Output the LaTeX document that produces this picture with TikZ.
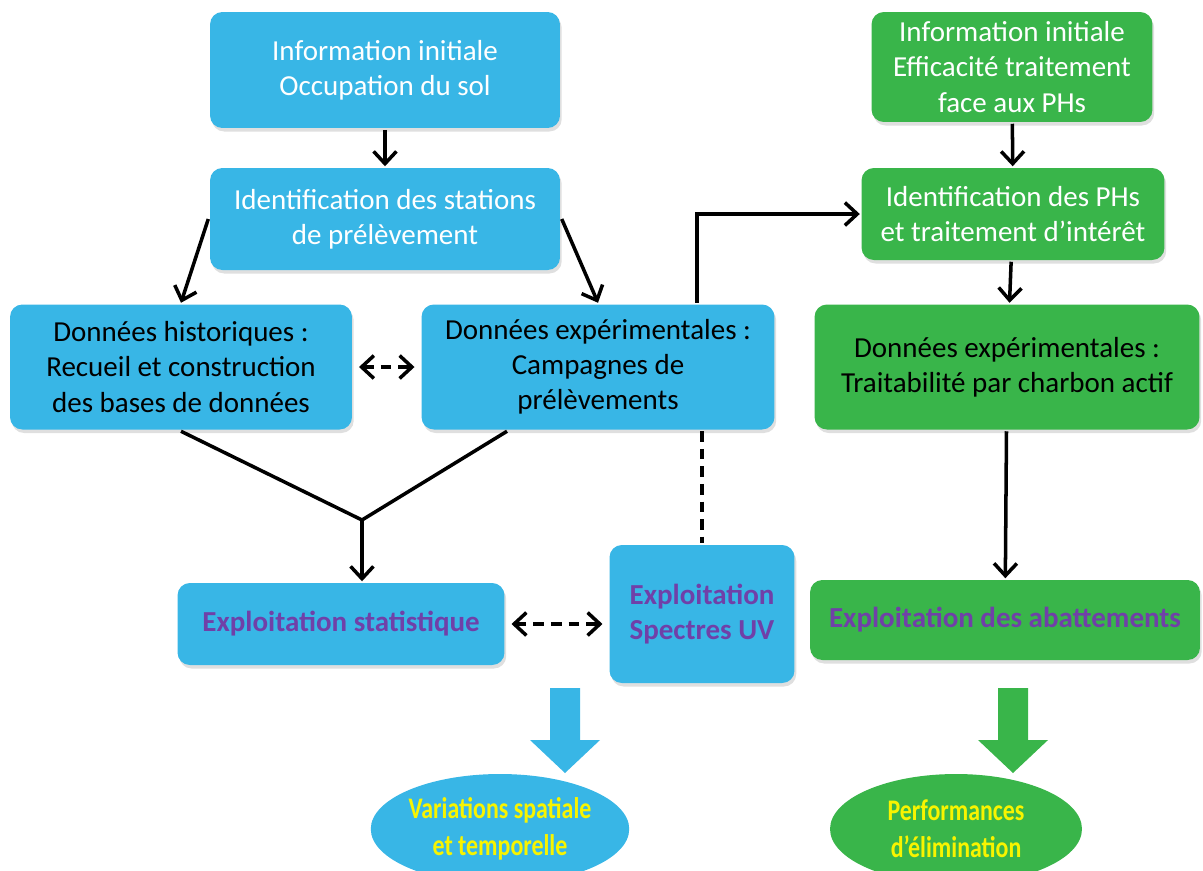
\documentclass[tikz,border=0pt]{standalone}
\usepackage{fontspec}
\setmainfont{Carlito}
\newfontfamily\narrowfont[FakeStretch=0.8]{Carlito}
\usetikzlibrary{arrows.meta,shapes.geometric,shadows}

\definecolor{skyblue}{HTML}{38B6E6}
\definecolor{leafgreen}{HTML}{39B54A}
\definecolor{exploitpurple}{HTML}{7040A8}
\definecolor{resultyellow}{HTML}{F8F400}

\def\boxfont{\fontsize{16.5}{20}\selectfont}

\begin{document}
\begin{tikzpicture}[x=0.02cm,y=-0.02cm,->,>={Straight Barb[length=7pt,width=13pt]},line width=2pt]
    \tikzstyle{box}=[rectangle,rounded corners=7pt,align=center,inner sep=2pt,font=\boxfont,
        drop shadow={opacity=0.25,shadow xshift=1pt,shadow yshift=-2pt}]
    \tikzstyle{blue box}=[box,fill=skyblue]
    \tikzstyle{green box}=[box,fill=leafgreen]
    \tikzstyle{exploit}=[font=\bfseries\fontsize{16.5}{20}\selectfont,text=exploitpurple]
    \tikzstyle{result}=[ellipse,inner sep=0pt,align=center,text=resultyellow,
        font=\narrowfont\bfseries\fontsize{17}{21}\selectfont]
    \tikzstyle{link}=[dashed,dash pattern=on 6pt off 4pt,shorten >=3pt,shorten <=3pt]

    \useasboundingbox (0,0) rectangle (1203,870);

    % Draw the blue column
    \node[blue box,text=white,minimum width=7cm,minimum height=2.32cm] (infoSol) at (385,70)
        {Information initiale\\Occupation du sol};
    \node[blue box,text=white,minimum width=7cm,minimum height=2.04cm] (identStations) at (385,219)
        {Identification des stations\\de prélèvement};
    \node[blue box,minimum width=6.84cm,minimum height=2.5cm] (donHist) at (181,367)
        {Données historiques :\\Recueil et construction\\des bases de données};
    \node[blue box,minimum width=7.06cm,minimum height=2.5cm] (donExp) at (598,367)
        {Données expérimentales :\\Campagnes de\\prélèvements};
    \node[blue box,exploit,minimum width=6.54cm,minimum height=1.64cm] (exploitStat) at (341,624)
        {Exploitation statistique};
    \node[blue box,exploit,minimum width=3.7cm,minimum height=2.76cm] (exploitUV) at (702,614)
        {Exploitation\\Spectres UV};

    % Draw the green column
    \node[green box,text=white,minimum width=5.62cm,minimum height=2.2cm] (infoTrait) at (1012,67)
        {Information initiale\\Efficacité traitement\\face aux PHs};
    \node[green box,text=white,minimum width=6.06cm,minimum height=1.84cm] (identPH) at (1013,214)
        {Identification des PHs\\et traitement d’intérêt};
    \node[green box,minimum width=7.7cm,minimum height=2.5cm] (donTrait) at (1007,367)
        {Données expérimentales :\\Traitabilité par charbon actif};
    \node[green box,exploit,minimum width=7.8cm,minimum height=1.6cm] (exploitAbat) at (1005,620)
        {Exploitation des abattements};

    % Draw the results
    \node[result,fill=skyblue,minimum width=5cm,minimum height=2.2cm] (variations) at (500,829)
        {Variations spatiale\\et temporelle};
    \node[result,fill=leafgreen,minimum width=5.04cm,minimum height=2.2cm] (perf) at (956,829)
        {Performances\\d’élimination};
    \foreach \x/\col in {565/skyblue,1013/leafgreen}
        \fill[\col,-] (\x-15,688) -- (\x+15,688) -- (\x+15,740) -- (\x+35,740)
            -- (\x,773) -- (\x-35,740) -- (\x-15,740) -- cycle;

    % Connect the blue column
    \path (infoSol) edge (identStations);
    \draw (identStations.west) -- (donHist.north);
    \draw (identStations.east) -- (donExp.north);
    \draw[<->,link] (donHist) -- (donExp);
    \coordinate (merge) at (362,520);
    \draw[-] (donHist.south) -- (merge);
    \draw[-] ([xshift=-1.82cm]donExp.south) -- (merge);
    \draw (merge) -- (merge |- exploitStat.north);
    \draw[-,link,shorten <=0pt,shorten >=0pt] (exploitUV.north |- donExp.south) -- (exploitUV.north);
    \draw[<->,link] (exploitStat.east) -- (exploitStat.east -| exploitUV.west);
    \draw ([xshift=1.98cm]donExp.north) |- (identPH.west);

    % Connect the green column
    \path (infoTrait) edge (identPH);
    \path (identPH) edge (donTrait);
    \path (donTrait) edge (exploitAbat);
\end{tikzpicture}
\end{document}
